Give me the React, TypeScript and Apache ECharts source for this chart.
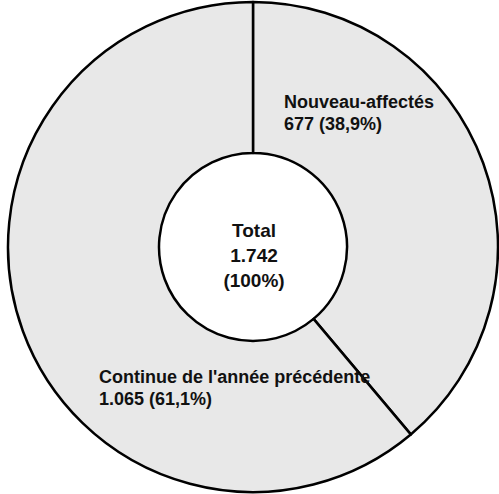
import React, { useEffect, useRef } from "react";
import * as echarts from "echarts";

const categories = ["Nouveau-affectés", "Continue de l'année précédente"];
const values = [677, 1065];
const totalTitle = "Total";

const fmtInt = (n: number) => n.toLocaleString("de-DE");
const fmtPct = (p: number) => p.toFixed(1).replace(".", ",");

export default function App() {
  const ref = useRef<HTMLDivElement>(null);
  useEffect(() => {
    if (!ref.current) return;
    const chart = echarts.init(ref.current, undefined, { renderer: "svg" });
    const total = values.reduce((a, b) => a + b, 0);
    const labelPos = [
      { x: 284, y: 91 },
      { x: 99, y: 366 },
    ];
    chart.setOption({
      animation: false,
      backgroundColor: "#ffffff",
      series: [
        {
          type: "pie",
          center: [253, 247],
          radius: [94, 245],
          startAngle: 90,
          clockwise: true,
          avoidLabelOverlap: false,
          silent: true,
          itemStyle: {
            color: "#e8e8e8",
            borderColor: "#000000",
            borderWidth: 2.5,
          },
          label: {
            show: true,
            position: "inside",
            color: "#111111",
            fontFamily: "Liberation Sans, Arial, sans-serif",
            fontWeight: "bold",
            fontSize: 18,
            lineHeight: 22,
            align: "left",
            formatter: (p: any) =>
              `${p.name}\n${fmtInt(p.value)} (${fmtPct((p.value / total) * 100)}%)`,
          },
          labelLine: { show: false },
          labelLayout: (params: any) => ({
            x: labelPos[params.dataIndex].x,
            y: labelPos[params.dataIndex].y,
            align: "left",
            verticalAlign: "top",
          }),
          data: categories.map((c, i) => ({ name: c, value: values[i] })),
        },
      ],
      graphic: [
        {
          type: "text",
          x: 254,
          y: 255,
          style: {
            text: `${totalTitle}\n${fmtInt(total)}\n(100%)`,
            align: "center",
            verticalAlign: "middle",
            textAlign: "center",
            textVerticalAlign: "middle",
            fontFamily: "Liberation Sans, Arial, sans-serif",
            fontWeight: "bold",
            fontSize: 19,
            lineHeight: 25,
            fill: "#111111",
          },
        },
      ],
    });
    return () => chart.dispose();
  }, []);
  return (
    <div
      ref={ref}
      style={{ position: "fixed", left: 0, top: 0, width: 499, height: 494 }}
    />
  );
}
